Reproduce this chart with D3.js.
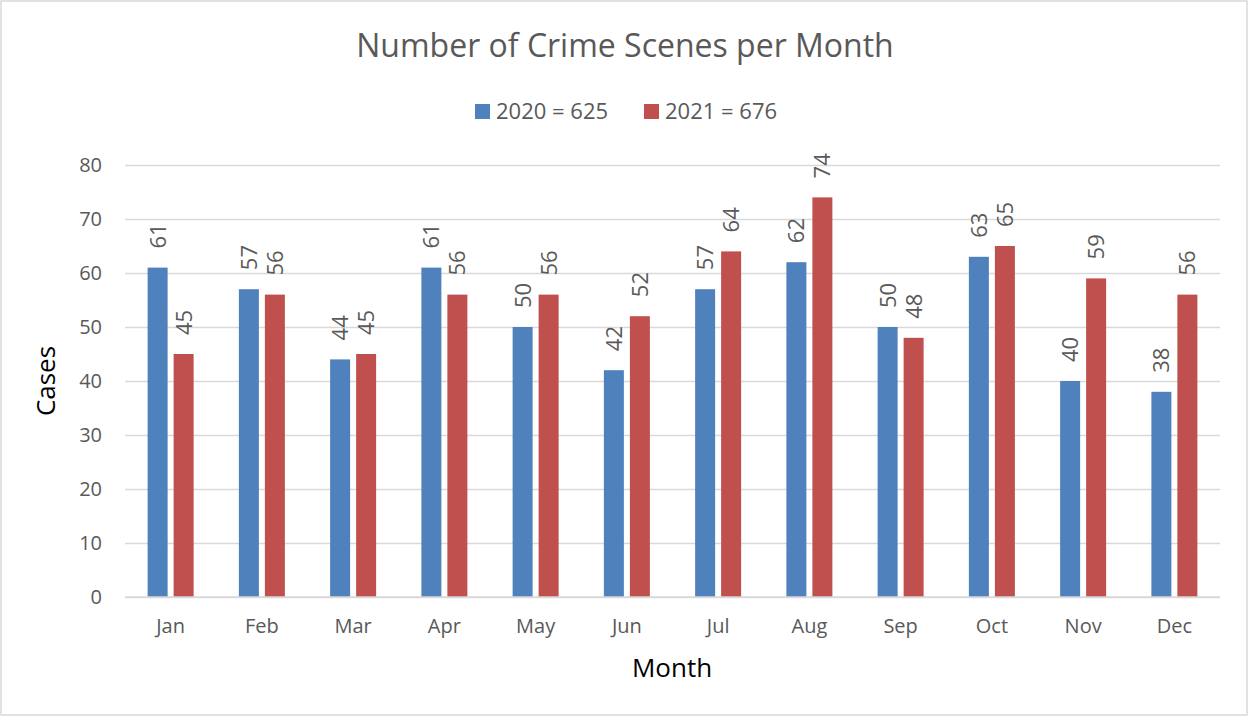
<!DOCTYPE html>
<html>
<head>
<meta charset="utf-8">
<script src="https://cdn.jsdelivr.net/npm/d3@7"></script>
<style>
  body { margin: 0; background: #fff; }
  text { font-family: "Open Sans", "Noto Sans", sans-serif; fill: #595959; }
</style>
</head>
<body>
<svg id="chart"></svg>
<script>
// chart values
const months = ["Jan", "Feb", "Mar", "Apr", "May", "Jun", "Jul", "Aug", "Sep", "Oct", "Nov", "Dec"];
const cases2020 = [61, 57, 44, 61, 50, 42, 57, 62, 50, 63, 40, 38];
const cases2021 = [45, 56, 45, 56, 56, 52, 64, 74, 48, 65, 59, 56];
const seriesNames = ["2020 = 625", "2021 = 676"];
const seriesColors = ["#4F81BD", "#C0504D"];
const yTicks = [0, 10, 20, 30, 40, 50, 60, 70, 80];

const width = 1249, height = 717;
const margin = {top: 165, right: 29, bottom: 120, left: 125};
const innerW = width - margin.left - margin.right;
const innerH = height - margin.top - margin.bottom;

const svg = d3.select("#chart")
    .attr("width", width)
    .attr("height", height);

// outer chart border
svg.append("rect")
    .attr("x", 1).attr("y", 1)
    .attr("width", width - 3).attr("height", height - 3)
    .attr("fill", "#fff")
    .attr("stroke", "#d9d9d9")
    .attr("stroke-width", 1.5);

svg.append("text")
    .attr("x", 625).attr("y", 57)
    .attr("text-anchor", "middle")
    .style("font-size", "32px")
    .text("Number of Crime Scenes per Month");

// legend
const legend = svg.append("g").attr("transform", "translate(475, 104)");
seriesNames.forEach((name, i) => {
    const g = legend.append("g").attr("transform", `translate(${i * 169}, 0)`);
    g.append("rect").attr("width", 15).attr("height", 15).attr("fill", seriesColors[i]);
    g.append("text").attr("x", 21).attr("y", 15).style("font-size", "22px").text(name);
});

const plot = svg.append("g")
    .attr("transform", `translate(${margin.left},${margin.top})`);

const x = d3.scaleBand()
    .domain(months)
    .range([0, innerW]);

const y = d3.scaleLinear()
    .domain([0, 80])
    .range([innerH, 0]);

// grid lines
plot.append("g")
    .call(d3.axisLeft(y).tickValues(yTicks).tickSize(-innerW).tickFormat(""))
    .call(g => g.select(".domain").remove())
    .call(g => g.selectAll("line").attr("stroke", "#d9d9d9").attr("stroke-width", 1.3));

// y labels
plot.append("g")
    .call(d3.axisLeft(y).tickValues(yTicks).tickSize(0).tickPadding(23))
    .call(g => g.select(".domain").remove())
    .call(g => g.selectAll("text").style("font-size", "20px").attr("fill", "#595959"));

const barW = 20, gap = 6;
const series = [cases2020, cases2021];

series.forEach((vals, s) => {
    const offset = s === 0 ? -gap / 2 - barW : gap / 2;
    plot.selectAll(".bar" + s)
        .data(vals)
        .enter()
        .append("rect")
        .attr("class", "bar" + s)
        .attr("x", (d, i) => x(months[i]) + x.bandwidth() / 2 + offset)
        .attr("y", d => y(d))
        .attr("width", barW)
        .attr("height", d => innerH - y(d))
        .attr("fill", seriesColors[s]);

    plot.selectAll(".lab" + s)
        .data(vals)
        .enter()
        .append("text")
        .attr("class", "lab" + s)
        .attr("transform", (d, i) => {
            const cx = x(months[i]) + x.bandwidth() / 2 + offset + barW / 2;
            return `translate(${cx + 8},${y(d) - 19}) rotate(-90)`;
        })
        .attr("text-anchor", "start")
        .style("font-size", "22px")
        .text(d => d);
});

// baseline
plot.append("line")
    .attr("x1", 0).attr("x2", innerW)
    .attr("y1", innerH).attr("y2", innerH)
    .attr("stroke", "#d9d9d9")
    .attr("stroke-width", 1.5);

// x labels
plot.append("g")
    .attr("transform", `translate(0,${innerH})`)
    .call(d3.axisBottom(x).tickSize(0).tickPadding(22))
    .call(g => g.select(".domain").remove())
    .call(g => g.selectAll("text").style("font-size", "20px").attr("fill", "#595959"));

svg.append("text")
    .attr("x", 672).attr("y", 677)
    .attr("text-anchor", "middle")
    .style("font-size", "26px")
    .style("fill", "#000")
    .text("Month");

svg.append("text")
    .attr("transform", "translate(55, 381) rotate(-90)")
    .attr("text-anchor", "middle")
    .style("font-size", "26px")
    .style("fill", "#000")
    .text("Cases");
</script>
</body>
</html>
